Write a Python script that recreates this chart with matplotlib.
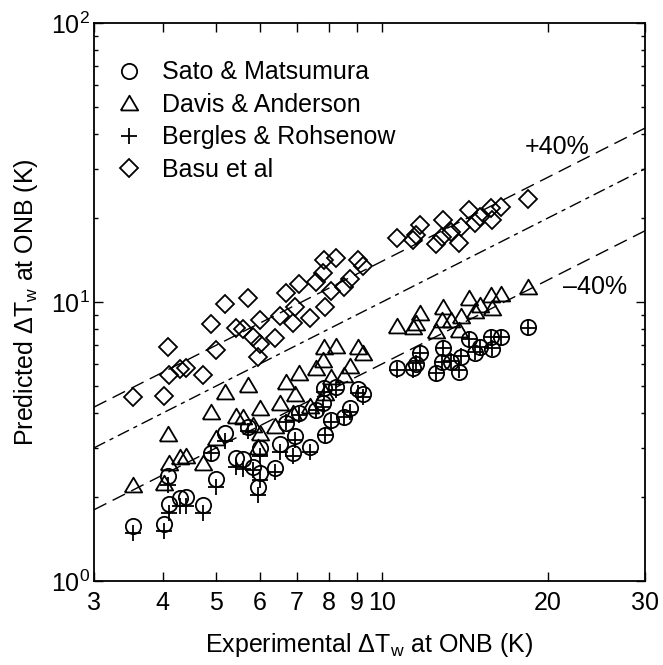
import numpy as np
import matplotlib.pyplot as plt
from matplotlib.ticker import FixedLocator, NullFormatter

plt.rcParams['font.family'] = 'Liberation Sans'
plt.rcParams['mathtext.fontset'] = 'custom'
plt.rcParams['mathtext.rm'] = 'Liberation Sans'
plt.rcParams['mathtext.it'] = 'Liberation Sans:italic'
plt.rcParams['mathtext.default'] = 'regular'

# experimental wall superheat at ONB (K), shared by all correlations
exp_dT = [3.53, 4.02, 4.08, 4.10, 4.29, 4.41, 4.73, 4.89, 5.00, 5.19,
          5.43, 5.60, 5.70, 5.84, 6.00, 5.96, 6.00, 6.39, 6.53, 6.70,
          6.88, 6.96, 7.08, 7.40, 7.59, 7.80, 7.83, 7.88, 8.07, 8.26,
          8.52, 8.76, 9.04, 9.23,
          10.62, 11.39, 11.50, 11.71, 12.51, 12.86, 12.92, 13.32, 13.79, 13.89,
          14.38, 14.72, 15.08, 15.74, 15.86, 16.42, 18.41]

# predicted wall superheat (K)
sato = [1.57, 1.60, 2.38, 1.89, 1.98, 2.00, 1.87, 2.88, 2.33, 3.38,
        2.75, 2.73, 3.57, 2.57, 2.43, 2.18, 2.99, 2.55, 3.10, 3.69,
        2.87, 3.31, 3.99, 3.03, 4.10, 4.33, 4.90, 3.34, 3.78, 4.97,
        3.88, 4.16, 4.88, 4.68,
        5.81, 5.78, 5.98, 6.55, 5.58, 6.11, 6.82, 6.11, 5.63, 6.34,
        7.35, 6.58, 6.90, 7.51, 6.77, 7.51, 8.11]
davis = [2.21, 2.25, 3.36, 2.65, 2.79, 2.81, 2.65, 4.05, 3.25, 4.77,
         3.90, 3.88, 5.04, 3.62, 3.40, 3.03, 4.16, 3.59, 4.36, 5.18,
         4.01, 4.68, 5.58, 4.24, 5.78, 6.20, 6.88, 4.71, 5.37, 6.95,
         5.47, 5.90, 6.88, 6.55,
         8.20, 8.16, 8.43, 9.16, 7.89, 8.62, 9.62, 8.62, 7.94, 8.91,
         10.31, 9.31, 9.75, 10.60, 9.49, 10.68, 11.35]
bergles = [1.48, 1.51, 2.21, 1.76, 1.86, 1.86, 1.75, 2.88, 2.18, 3.18,
           2.57, 2.53, 3.46, 2.50, 2.31, 2.03, 2.81, 2.46, 2.91, 3.72,
           2.81, 3.20, 3.94, 2.91, 4.10, 4.22, 4.77, 3.34, 3.72, 4.84,
           3.88, 4.04, 4.71, 4.58,
           5.71, 5.71, 6.06, 6.55, 5.58, 6.11, 6.82, 6.15, 5.71, 6.38,
           7.35, 6.63, 6.90, 7.51, 6.82, 7.51, 8.05]
basu = [4.58, 4.62, 6.92, 5.47, 5.74, 5.78, 5.47, 8.32, 6.73, 9.81,
        8.05, 7.98, 10.36, 7.51, 7.07, 6.34, 8.62, 7.41, 8.91, 10.74,
        8.39, 9.62, 11.60, 8.74, 11.83, 12.74, 14.14, 9.62, 10.98, 14.34,
        11.35, 12.06, 14.14, 13.46,
        16.91, 16.68, 17.38, 18.88, 16.14, 17.15, 19.68, 17.87, 16.32, 18.52,
        21.36, 19.15, 20.12, 21.78, 19.68, 21.85, 23.39]

band_x = np.array([3.0, 30.0])
band_factor = [1.4, 1.0, 0.6]

fs = 18
fig = plt.figure(figsize=(6.63, 6.65), dpi=100)
ax = fig.add_axes([94/663, 1 - 581/665, 551/663, 558/665])
ax.set_xscale('log')
ax.set_yscale('log')

ax.plot(band_x, band_factor[0]*band_x, color='k', lw=1.0, dashes=(10, 5))
ax.plot(band_x, band_factor[1]*band_x, color='k', lw=1.0, dashes=(9, 3.6, 3, 3.6))
ax.plot(band_x, band_factor[2]*band_x, color='k', lw=1.0, dashes=(10, 5))

# wide, flat open triangle
tri = [(-1, -0.8), (1, -0.8), (0, 0.9), (-1, -0.8)]

mk = dict(linestyle='None', color='k', mfc='none', mew=1.3)
ax.plot(exp_dT, sato, marker='o', ms=11, label='Sato & Matsumura', **mk)
ax.plot(exp_dT, davis, marker=tri, ms=12.5, label='Davis & Anderson', **mk)
ax.plot(exp_dT, bergles, marker='+', ms=11.5, label='Bergles & Rohsenow', **mk)
ax.plot(exp_dT, basu, marker='D', ms=9, label='Basu et al', **mk)

ax.text(20.8, 35.9, '+40%', fontsize=fs, ha='center', va='center')
ax.text(24.3, 11.3, '\u201340%', fontsize=fs, ha='center', va='center')

ax.set_xlim(3, 30)
ax.set_ylim(1, 100)
ax.xaxis.set_major_locator(FixedLocator([3, 4, 5, 6, 7, 8, 9, 10, 20, 30]))
ax.xaxis.set_major_formatter(plt.FixedFormatter(['3', '4', '5', '6', '7', '8', '9', '10', '20', '30']))
ax.xaxis.set_minor_locator(FixedLocator([10]))
ax.xaxis.set_minor_formatter(NullFormatter())
ax.yaxis.set_major_locator(FixedLocator([1, 10, 100]))
ax.yaxis.set_minor_locator(FixedLocator([2, 3, 4, 5, 6, 7, 8, 9, 20, 30, 40, 50, 60, 70, 80, 90]))
ax.yaxis.set_minor_formatter(NullFormatter())

ax.tick_params(which='both', direction='in', top=True, right=True, width=1.0, labelsize=fs)
ax.tick_params(axis='x', which='major', length=6.5, pad=7)
ax.tick_params(axis='x', which='minor', length=10.5)
ax.tick_params(axis='y', which='major', length=6.5, pad=3)
ax.tick_params(axis='y', which='minor', length=3.2)
for sp in ax.spines.values():
    sp.set_linewidth(1.3)

ax.set_xlabel('Experimental $\\Delta$T$_w$ at ONB (K)', fontsize=fs, labelpad=12)
ax.set_ylabel('Predicted $\\Delta$T$_w$ at ONB (K)', fontsize=fs, labelpad=8)

ax.legend(loc='upper left', bbox_to_anchor=(0.04, 0.933), frameon=False, fontsize=fs,
          borderpad=0, borderaxespad=0, handlelength=1.0, handletextpad=0.85,
          labelspacing=0.34, numpoints=1)

fig.savefig('out.png', dpi=100)
